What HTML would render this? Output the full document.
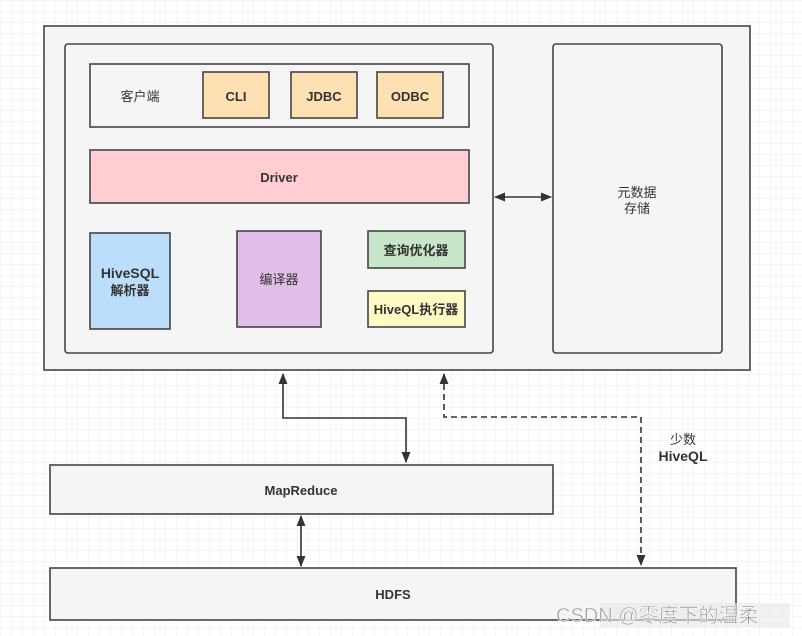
<!DOCTYPE html>
<html><head><meta charset="utf-8"><style>
html,body{margin:0;padding:0;width:802px;height:636px;overflow:hidden;background:#fff}
svg{display:block}
text{font-family:"Liberation Sans","Noto Sans CJK SC",sans-serif;fill:#333;font-weight:bold;font-size:13px}
</style></head><body>
<svg width="802" height="636" viewBox="0 0 802 636" xmlns="http://www.w3.org/2000/svg">
<defs>
<pattern id="g" width="11" height="11" patternUnits="userSpaceOnUse"><path d="M11 0H0V11" fill="none" stroke="#ebebeb" stroke-width="1"/></pattern>
<marker id="a" viewBox="0 0 10 10" refX="9" refY="5" markerWidth="7" markerHeight="7" orient="auto-start-reverse"><path d="M0 1L10 5L0 9z" fill="#333"/></marker>
</defs>
<rect width="802" height="636" fill="#fff"/>
<rect width="802" height="636" fill="url(#g)"/>
<g stroke="#444" stroke-width="1.6">
<rect x="44" y="26" width="706" height="344" fill="#f5f5f5"/>
<rect x="65" y="44" width="428" height="309" rx="3" fill="#f5f5f5"/>
<rect x="553" y="44" width="169" height="309" rx="3" fill="#f5f5f5"/>
<rect x="90" y="64" width="379" height="63" fill="#f5f5f5"/>
<rect x="203" y="72" width="66" height="46" fill="#ffe0b2"/>
<rect x="291" y="72" width="66" height="46" fill="#ffe0b2"/>
<rect x="377" y="72" width="66" height="46" fill="#ffe0b2"/>
<rect x="90" y="150" width="379" height="53" fill="#ffcdd2"/>
<rect x="90" y="233" width="80" height="96" fill="#bbdefb"/>
<rect x="237" y="231" width="84" height="96" fill="#e1bee7"/>
<rect x="368" y="231" width="97" height="37" fill="#c8e6c9"/>
<rect x="368" y="291" width="97" height="36" fill="#fff9c4"/>
<rect x="50" y="465" width="503" height="49" fill="#f5f5f5"/>
<rect x="50" y="568" width="686" height="52" fill="#f5f5f5"/>
</g>
<g stroke="#333" stroke-width="1.6" fill="none">
<line x1="495" y1="197" x2="551" y2="197" marker-start="url(#a)" marker-end="url(#a)"/>
<polyline points="283,374 283,418 406,418 406,462" marker-start="url(#a)" marker-end="url(#a)"/>
<polyline points="444,374 444,417 641,417 641,565" stroke-dasharray="6,4" marker-start="url(#a)" marker-end="url(#a)"/>
<line x1="301" y1="516" x2="301" y2="566" marker-start="url(#a)" marker-end="url(#a)"/>
</g>
<g text-anchor="middle">
<text x="140" y="101" style="font-weight:normal">客户端</text>
<text x="236" y="101">CLI</text>
<text x="324" y="101">JDBC</text>
<text x="410" y="101">ODBC</text>
<text x="279" y="182">Driver</text>
<text x="130" y="278" style="font-size:14px">HiveSQL</text>
<text x="130" y="295">解析器</text>
<text x="279" y="284" style="font-weight:normal">编译器</text>
<text x="416" y="255">查询优化器</text>
<text x="416" y="314">HiveQL执行器</text>
<text x="637" y="197" style="font-weight:normal">元数据</text>
<text x="637" y="213" style="font-weight:normal">存储</text>
<text x="301" y="495">MapReduce</text>
<text x="393" y="599">HDFS</text>
<text x="683" y="444" style="font-weight:normal">少数</text>
<text x="683" y="461" style="font-size:14px">HiveQL</text>
</g>
<rect x="600" y="603" width="190" height="24" fill="#e8e8e8" opacity="0.6"/>
<text x="556" y="622" style="font-size:20px;font-weight:normal;fill:#9a9a9a;stroke:#fff;stroke-width:0.5">CSDN @零度下的温柔</text>
</svg>
</body></html>
